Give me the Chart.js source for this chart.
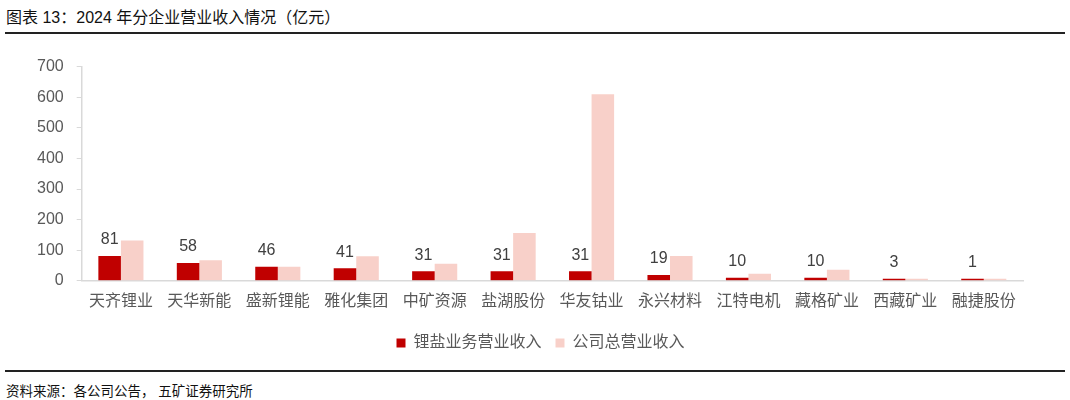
<!DOCTYPE html>
<html>
<head>
<meta charset="utf-8">
<script src="https://cdn.jsdelivr.net/npm/chart.js@4"></script>
<style>
  body { margin: 0; background: #fff; font-family: "Liberation Sans", "Noto Sans CJK SC", sans-serif; }
  #page { position: relative; width: 1070px; height: 400px; overflow: hidden; }
  .title { position: absolute; left: 6px; top: 4px; font-size: 16px; color: #111; white-space: nowrap; }
  .rule { position: absolute; left: 5px; width: 1060px; height: 2px; background: #222; }
  .source { position: absolute; left: 6px; top: 380px; font-size: 13.5px; color: #111; white-space: nowrap; }
  #wrap { position: absolute; left: 0; top: 44px; width: 1070px; height: 317px; }
</style>
</head>
<body>
<div id="page">
  <div class="title">图表 13：2024 年分企业营业收入情况（亿元）</div>
  <div class="rule" style="top:32px"></div>
  <div id="wrap"><canvas id="revChart"></canvas></div>
  <div class="rule" style="top:370px"></div>
  <div class="source">资料来源：各公司公告， 五矿证券研究所</div>
</div>
<script>
// --- ma'lumotlar ---
const companies = ["天齐锂业", "天华新能", "盛新锂能", "雅化集团", "中矿资源", "盐湖股份",
                   "华友钴业", "永兴材料", "江特电机", "藏格矿业", "西藏矿业", "融捷股份"];
const lithiumRevenue = [81, 58, 46, 41, 31, 31, 31, 19, 10, 10, 3, 1];
const totalRevenue = [132, 67, 46, 80, 56, 156, 610, 81, 23, 36, 7, 6];
const yTicks = [0, 100, 200, 300, 400, 500, 600, 700];

const FONT = '"Liberation Sans", "Noto Sans CJK SC", sans-serif';

// qizil ustunlar ustidagi raqamlar
const redLabels = {
  id: 'redLabels',
  afterDatasetsDraw(chart) {
    const ctx = chart.ctx;
    const meta = chart.getDatasetMeta(0);
    ctx.save();
    ctx.font = '16px ' + FONT;
    ctx.fillStyle = '#404040';
    ctx.textAlign = 'center';
    ctx.textBaseline = 'middle';
    meta.data.forEach((bar, i) => {
      ctx.fillText(String(lithiumRevenue[i]), bar.x, bar.y - 16);
    });
    ctx.restore();
  }
};

// legendani biroz o'ngga surish
const legendShift = {
  id: 'legendShift',
  afterLayout(chart) {
    chart.legend.left += 17;
    chart.legend.right += 17;
  }
};

new Chart(document.getElementById('revChart'), {
  type: 'bar',
  data: {
    labels: companies,
    datasets: [
      { label: '锂盐业务营业收入', data: lithiumRevenue, backgroundColor: '#c00000', minBarLength: 2 },
      { label: '公司总营业收入', data: totalRevenue, backgroundColor: '#f8d0c9', minBarLength: 2 }
    ]
  },
  options: {
    responsive: true,
    maintainAspectRatio: false,
    animation: false,
    datasets: { bar: { categoryPercentage: 0.575, barPercentage: 1.0 } },
    layout: { padding: { left: 24, right: 47, top: 8, bottom: 0 } },
    plugins: {
      tooltip: { enabled: false },
      legend: {
        position: 'bottom',
        labels: {
          boxWidth: 9, boxHeight: 9, padding: 14,
          color: '#595959', font: { family: FONT, size: 16 }
        }
      }
    },
    scales: {
      x: {
        grid: { display: false },
        border: { display: true, color: '#d9d9d9', width: 1.5 },
        ticks: { color: '#595959', padding: 3, font: { family: FONT, size: 16 }, maxRotation: 0 },
        afterFit: scale => { scale.height += 7; }
      },
      y: {
        min: 0, max: 700,
        afterBuildTicks: axis => { axis.ticks = yTicks.map(v => ({ value: v })); },
        grid: { display: true, drawOnChartArea: false, drawTicks: true, tickLength: 5, color: '#d9d9d9' },
        border: { display: true, color: '#d9d9d9', width: 1.5 },
        ticks: { color: '#595959', padding: 13, font: { family: FONT, size: 16 } }
      }
    }
  },
  plugins: [redLabels, legendShift]
});
</script>
</body>
</html>
